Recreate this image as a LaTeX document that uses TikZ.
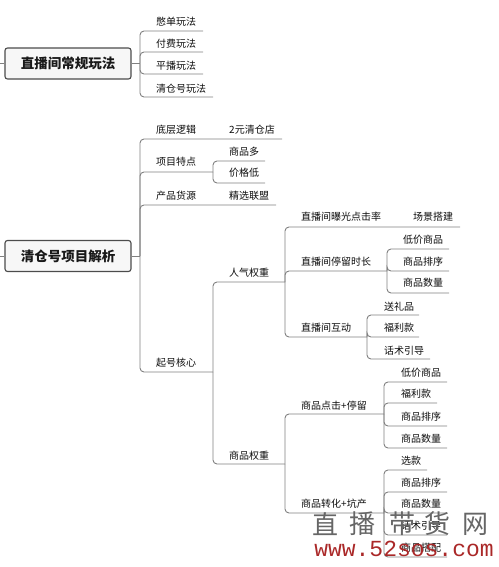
\documentclass[tikz,border=0pt]{standalone}
\usepackage{fontspec}
\setmainfont{Noto Sans CJK SC}
\newfontfamily\wmmono{Liberation Mono}
\begin{document}
\begin{tikzpicture}[x=1pt,y=-1pt,
  conn/.style={draw=black!50, line width=0.9pt, rounded corners=4pt},
  rootbox/.style={draw=black!70, fill=black!3, line width=1.1pt, rounded corners=2.5pt,
    minimum width=126pt, minimum height=31pt, inner sep=0pt,
    font=\fontsize{13.5}{15}\selectfont\bfseries, text=black!90},
  topic/.style={anchor=west, inner sep=0pt, font=\fontsize{10}{12}\selectfont, text=black!95}]
\useasboundingbox (0,0) rectangle (498,567);
\newcommand{\br}[4]{\draw[conn] (#1,#2) |- (#4,#3);}

% ---------- root 1
\node[rootbox] (r1) at (68,63.5) {直播间常规玩法};
\coordinate (r1l) at (0,63.5);
\coordinate (r1j) at (140,63.5);
\draw[conn] (r1l) -- (r1.west);
\draw[conn] (r1.east) -- (r1j);
\br{140}{63.5}{31}{203}
\br{140}{63.5}{52}{203}
\br{140}{63.5}{74}{203}
\br{140}{63.5}{97}{213}
\node[topic] (a1) at (156,22) {憋单玩法};
\node[topic] (a2) at (156,44) {付费玩法};
\node[topic] (a3) at (156,66) {平播玩法};
\node[topic] (a4) at (156,89) {清仓号玩法};

% ---------- root 2
\node[rootbox] (r2) at (68,256) {清仓号项目解析};
\coordinate (r2l) at (0,256);
\coordinate (r2j) at (140,256);
\draw[conn] (r2l) -- (r2.west);
\draw[conn] (r2.east) -- (r2j);
\br{140}{256}{139}{282}
\br{140}{256}{172}{213}
\br{140}{256}{205}{276}
\br{140}{256}{372}{213}
\node[topic] (b1) at (156,130) {底层逻辑};
\node[topic] (b1a) at (229,130) {2元清仓店};
\node[topic] (b2) at (156,162) {项目特点};
\br{213}{172}{161}{265}
\br{213}{172}{183}{265}
\node[topic] (b2a) at (229,152) {商品多};
\node[topic] (b2b) at (229,173) {价格低};
\node[topic] (b3) at (156,196) {产品货源};
\node[topic] (b3a) at (229,196) {精选联盟};
\node[topic] (b4) at (156,363) {起号核心};

% 起号核心 children
\br{213}{372}{282}{285}
\br{213}{372}{464}{285}
\node[topic] (c1) at (229,273) {人气权重};
\node[topic] (c2) at (229,456) {商品权重};

% 人气权重
\br{285}{282}{227}{460}
\br{285}{282}{271}{387}
\br{285}{282}{337}{367}
\node[topic] (d1) at (301,217) {直播间曝光点击率};
\node[topic] (d1a) at (413,217) {场景搭建};
\node[topic] (d2) at (301,262) {直播间停留时长};
\br{387}{271}{249}{449}
\br{387}{271}{271}{449}
\br{387}{271}{293}{449}
\node[topic] (d2a) at (403,240) {低价商品};
\node[topic] (d2b) at (403,262) {商品排序};
\node[topic] (d2c) at (403,283) {商品数量};
\node[topic] (d3) at (301,328) {直播间互动};
\br{367}{337}{315}{419}
\br{367}{337}{337}{419}
\br{367}{337}{359}{430}
\node[topic] (d3a) at (384,307) {送礼品};
\node[topic] (d3b) at (384,328) {福利款};
\node[topic] (d3c) at (384,351) {话术引导};

% 商品权重
\br{285}{464}{414}{384}
\br{285}{464}{513}{384}
\node[topic] (e1) at (301,406) {商品点击+停留};
\br{384}{414}{382}{447}
\br{384}{414}{403}{437}
\br{384}{414}{426}{447}
\br{384}{414}{448}{447}
\node[topic] (e1a) at (401,373) {低价商品};
\node[topic] (e1b) at (401,394) {福利款};
\node[topic] (e1c) at (401,417) {商品排序};
\node[topic] (e1d) at (401,439) {商品数量};
\node[topic] (e2) at (301,504) {商品转化+坑产};
\br{384}{513}{470}{427}
\br{384}{513}{492}{447}
\br{384}{513}{513}{447}
\br{384}{513}{535}{447}
\br{384}{513}{557}{447}
\node[topic] (e2a) at (401,461) {选款};
\node[topic] (e2b) at (401,483) {商品排序};
\node[topic] (e2c) at (401,504) {商品数量};
\node[topic] (e2d) at (401,526) {话术引导};
\node[topic] (e2e) at (401,548) {商品搭配};

% ---------- watermark
\foreach \ch/\xx [count=\i] in {直/325,播/362,带/402,货/437,网/475}
  \node[inner sep=0pt, text=black!60, font=\fontsize{26}{28}\selectfont] (w\i) at (\xx,524) {\ch};
\node[inner sep=0pt, text={rgb,255:red,170;green,40;blue,40}, font=\wmmono\fontsize{23}{25}\selectfont] (wurl) at (404,549) {www.52sos.com};
\end{tikzpicture}
\end{document}
